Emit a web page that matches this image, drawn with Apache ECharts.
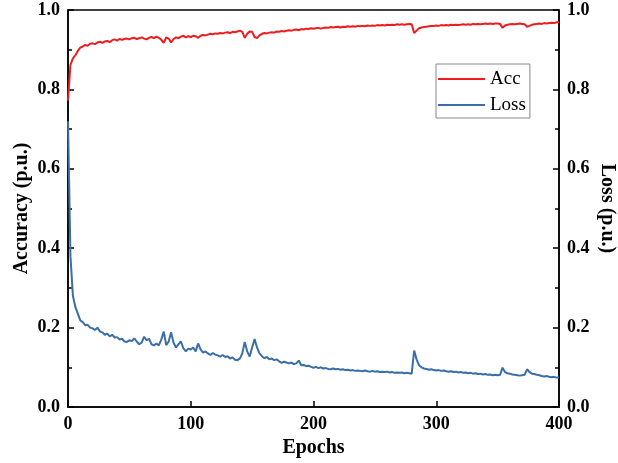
<!DOCTYPE html>
<html>
<head>
<meta charset="utf-8">
<script src="https://cdn.jsdelivr.net/npm/echarts@6/dist/echarts.min.js"></script>
<style>
  html, body { margin: 0; padding: 0; background: #fff; }
  #chart { width: 618px; height: 463px; }
</style>
</head>
<body>
<div id="chart"></div>
<script>
// 横轴：每 2 个 epoch 取一个点
var epochStep = 2;

// 准确率 (epoch 0, 2, 4 ... 400)
var accValues = [
  0.772, 0.862, 0.878, 0.886, 0.897, 0.905, 0.908, 0.912, 0.910, 0.915,
  0.916, 0.914, 0.918, 0.920, 0.917, 0.921, 0.922, 0.919, 0.924, 0.926,
  0.923, 0.927, 0.925, 0.927, 0.928, 0.926, 0.929, 0.930, 0.927, 0.929,
  0.931, 0.928, 0.926, 0.930, 0.932, 0.929, 0.933, 0.930, 0.925, 0.917,
  0.931, 0.928, 0.918, 0.927, 0.931, 0.929, 0.933, 0.935, 0.931, 0.934,
  0.932, 0.935, 0.934, 0.930, 0.935, 0.937, 0.936, 0.938, 0.940, 0.939,
  0.941, 0.940, 0.942, 0.941, 0.943, 0.944, 0.942, 0.945, 0.944, 0.946,
  0.948, 0.945, 0.930, 0.940, 0.946, 0.945, 0.932, 0.929, 0.936, 0.940,
  0.942, 0.941, 0.943, 0.944, 0.943, 0.946, 0.945, 0.947, 0.946, 0.948,
  0.949, 0.948, 0.950, 0.951, 0.949, 0.952, 0.951, 0.953, 0.952, 0.954,
  0.953, 0.954, 0.955, 0.953, 0.955, 0.956, 0.955, 0.957, 0.956, 0.957,
  0.958, 0.956, 0.958, 0.957, 0.959, 0.958, 0.959, 0.958, 0.960, 0.959,
  0.960, 0.959, 0.961, 0.960, 0.961, 0.960, 0.962, 0.961, 0.962, 0.961,
  0.963, 0.962, 0.963, 0.962, 0.964, 0.963, 0.964, 0.963, 0.964, 0.965,
  0.964, 0.942, 0.948, 0.954, 0.956, 0.957, 0.958, 0.959, 0.960, 0.960,
  0.961, 0.960, 0.962, 0.961, 0.962, 0.961, 0.963, 0.962, 0.963, 0.962,
  0.963, 0.964, 0.963, 0.964, 0.963, 0.965, 0.964, 0.965, 0.964, 0.965,
  0.966, 0.965, 0.966, 0.965, 0.966, 0.966, 0.965, 0.955, 0.961, 0.963,
  0.964, 0.965, 0.964, 0.965, 0.966, 0.965, 0.964, 0.958, 0.960, 0.963,
  0.964, 0.965, 0.966, 0.965, 0.967, 0.966, 0.967, 0.968, 0.967, 0.969,
  0.969
];

// 损失 (epoch 0, 2, 4 ... 400)
var lossValues = [
  0.720, 0.380, 0.280, 0.252, 0.235, 0.218, 0.214, 0.206, 0.207, 0.200,
  0.198, 0.194, 0.200, 0.190, 0.188, 0.182, 0.185, 0.178, 0.182, 0.175,
  0.176, 0.170, 0.172, 0.165, 0.164, 0.168, 0.166, 0.173, 0.165, 0.158,
  0.162, 0.177, 0.168, 0.172, 0.158, 0.155, 0.160, 0.155, 0.170, 0.190,
  0.156, 0.165, 0.188, 0.162, 0.150, 0.158, 0.165, 0.148, 0.140, 0.147,
  0.145, 0.150, 0.140, 0.160, 0.145, 0.137, 0.140, 0.135, 0.131, 0.136,
  0.132, 0.130, 0.127, 0.131, 0.126, 0.128, 0.122, 0.125, 0.119, 0.118,
  0.122, 0.135, 0.164, 0.140, 0.127, 0.150, 0.171, 0.150, 0.135, 0.128,
  0.123, 0.126, 0.120, 0.122, 0.118, 0.120, 0.115, 0.111, 0.114, 0.112,
  0.110, 0.112, 0.108, 0.110, 0.117, 0.105, 0.106, 0.103, 0.104, 0.101,
  0.099, 0.101, 0.098, 0.100, 0.097, 0.098, 0.096, 0.095, 0.097, 0.095,
  0.096, 0.094, 0.095, 0.093, 0.094, 0.092, 0.093, 0.091, 0.092, 0.091,
  0.090, 0.092, 0.090, 0.089, 0.091, 0.089, 0.090, 0.088, 0.089, 0.088,
  0.089, 0.087, 0.088, 0.086, 0.087, 0.086, 0.087, 0.085, 0.086, 0.085,
  0.084, 0.142, 0.120, 0.105, 0.100, 0.097, 0.096, 0.094, 0.095, 0.093,
  0.092, 0.093, 0.091, 0.092, 0.090, 0.089, 0.090, 0.088, 0.089, 0.087,
  0.088, 0.086, 0.087, 0.085, 0.086, 0.084, 0.085, 0.083, 0.084, 0.082,
  0.083, 0.081, 0.082, 0.080, 0.081, 0.080, 0.081, 0.099, 0.088, 0.085,
  0.084, 0.082, 0.081, 0.080, 0.079, 0.080, 0.081, 0.095, 0.088, 0.084,
  0.083, 0.081, 0.080, 0.078, 0.077, 0.078, 0.076, 0.075, 0.076, 0.074,
  0.075
];

var seriesNames = ['Acc', 'Loss'];
var xTicks = [0, 100, 200, 300, 400];
var yTicks = [0, 0.2, 0.4, 0.6, 0.8, 1.0];

function toPairs(values) {
  var out = [];
  for (var i = 0; i < values.length; i++) {
    out.push([i * epochStep, values[i]]);
  }
  return out;
}

var serif = 'Liberation Serif';

function yAxisCfg(name, position) {
  return {
    type: 'value',
    position: position,
    min: yTicks[0],
    max: yTicks[yTicks.length - 1],
    interval: yTicks[1] - yTicks[0],
    name: name,
    nameLocation: 'middle',
    nameGap: position === 'right' ? 38 : 36,
    nameMoveOverlap: false,
    nameRotate: position === 'right' ? -90 : 90,
    nameTextStyle: { fontFamily: serif, fontWeight: 'bold', fontSize: 20, color: '#000' },
    axisLine: { show: true, lineStyle: { color: '#000', width: 1.5 } },
    axisTick: { show: true, inside: true, length: 6, lineStyle: { color: '#000', width: 1.5 } },
    minorTick: { show: true, splitNumber: 2, length: 4, lineStyle: { color: '#000', width: 1.5 } },
    splitLine: { show: false },
    axisLabel: {
      margin: 8,
      fontFamily: serif,
      fontWeight: 'bold',
      fontSize: 18,
      color: '#000',
      formatter: function (v) { return v.toFixed(1); }
    }
  };
}

function initECharts(el, options) {
  // eslint-disable-next-line
  var myEchart = echarts.init(el, null, { renderer: 'canvas' });
  myEchart.setOption(options);
  return myEchart;
}

var option = {
  animation: false,
  backgroundColor: '#fff',
  grid: {
    left: 68, right: 59, top: 10, bottom: 56,
    outerBoundsMode: 'none',
    containLabel: false,
    show: true, borderColor: '#000', borderWidth: 1.5
  },
  legend: {
    orient: 'vertical',
    left: 436,
    top: 64,
    padding: [5, 4, 3, 2],
    itemGap: 6,
    itemWidth: 47,
    itemHeight: 2,
    icon: 'rect',
    borderColor: '#888',
    borderWidth: 1,
    textStyle: { fontFamily: serif, fontSize: 19, color: '#000', lineHeight: 20 },
    data: seriesNames
  },
  xAxis: {
    type: 'value',
    min: xTicks[0],
    max: xTicks[xTicks.length - 1],
    interval: xTicks[1] - xTicks[0],
    name: 'Epochs',
    nameLocation: 'middle',
    nameGap: 31,
    nameMoveOverlap: false,
    nameTextStyle: { fontFamily: serif, fontWeight: 'bold', fontSize: 20, color: '#000' },
    axisLine: { show: true, lineStyle: { color: '#000', width: 1.5 } },
    axisTick: { show: true, inside: true, length: 6, lineStyle: { color: '#000', width: 1.5 } },
    splitLine: { show: false },
    axisLabel: { margin: 8, fontFamily: serif, fontWeight: 'bold', fontSize: 18, color: '#000' }
  },
  yAxis: [yAxisCfg('Accuracy (p.u.)', 'left'), yAxisCfg('Loss (p.u.)', 'right')],
  series: [
    {
      name: seriesNames[0],
      type: 'line',
      yAxisIndex: 0,
      showSymbol: false,
      color: '#ee1d1d',
      lineStyle: { width: 2 },
      data: toPairs(accValues)
    },
    {
      name: seriesNames[1],
      type: 'line',
      yAxisIndex: 1,
      showSymbol: false,
      color: '#3a6ea8',
      lineStyle: { width: 2 },
      data: toPairs(lossValues)
    }
  ]
};

initECharts(document.getElementById('chart'), option);
</script>
</body>
</html>
